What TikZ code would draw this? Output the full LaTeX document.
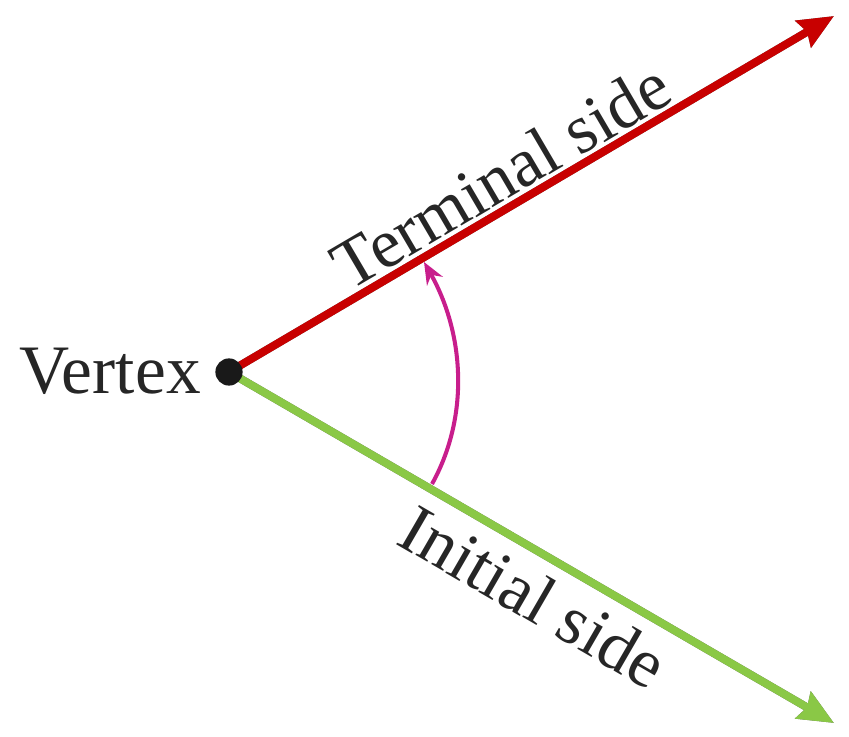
\documentclass[tikz,border=0pt]{standalone}
\usepackage{fontspec}
\setmainfont{Liberation Serif}
\newfontfamily\lblfont{Liberation Serif}
\usetikzlibrary{arrows.meta}
\definecolor{termred}{RGB}{200,0,0}
\definecolor{initgreen}{RGB}{138,200,70}
\definecolor{arcmag}{RGB}{200,30,140}
\tikzset{
  side/.style={line width=4.5pt, -{Stealth[length=20pt,width=17pt,inset=2.3pt]}},
  shade/.style={side, draw=black, fill=black, opacity=0.6, shift={(2,3)}},
  lbl/.style={font=\lblfont\fontsize{39.5}{44}\selectfont, text=black!85, inner sep=0pt},
}
\begin{document}
\begin{tikzpicture}[x=0.02cm,y=-0.02cm]
\useasboundingbox (0,0) rectangle (849,737);
\coordinate (V) at (229,372);
\coordinate (T) at (834,16);
\coordinate (I) at (834,723);
\coordinate (a1) at (432,484);
\coordinate (a2) at (424,262);
% shadows
\draw[shade] (V) -- (T);
\draw[shade] (V) -- (I);
% sides
\draw[side, draw=initgreen, fill=initgreen] (V) -- (I);
\draw[side, draw=termred, fill=termred] (V) -- (T);
% vertex dot
\node[circle, fill=black!90, minimum size=15.5pt, inner sep=0pt] (dot) at (V) {};
% angle arc
\draw[arcmag, line width=2.3pt, -{Stealth[length=12.5pt,width=10.2pt]}]
  (a1) .. controls (470.6,414.4) and (463.4,331.6) .. (a2);
% labels
\node[lbl, anchor=base east] (vlab) at (201,393) {Vertex};
\node[lbl, anchor=base, rotate=30.4] (tlab) at (513,196) {Terminal side};
\node[lbl, anchor=base, rotate=-30.1] (ilab) at (522,617) {Initial side};
\end{tikzpicture}
\end{document}
